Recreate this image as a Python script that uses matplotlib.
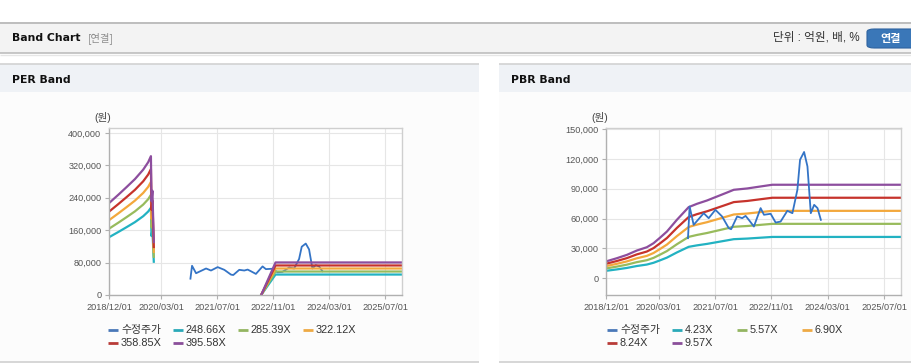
import matplotlib
matplotlib.use('Agg')
import matplotlib.pyplot as plt
import matplotlib.dates as mdates
from matplotlib.lines import Line2D
from matplotlib.patches import Rectangle, FancyBboxPatch
import numpy as np
import pandas as pd

plt.rcParams['font.family'] = ['Liberation Sans', 'Noto Sans CJK KR']

W, H = 912, 364

# --- data ---
price_dates = ['2020-11-09', '2020-11-23', '2020-12-28', '2021-03-25', '2021-05-07',
               '2021-07-04', '2021-08-31', '2021-10-28', '2021-11-17', '2022-01-08',
               '2022-02-21', '2022-03-22', '2022-04-19', '2022-06-02', '2022-07-30',
               '2022-08-28', '2022-10-25', '2022-12-07', '2023-01-19', '2023-03-18',
               '2023-05-01', '2023-06-13', '2023-07-06', '2023-08-10', '2023-09-08',
               '2023-10-07', '2023-11-05', '2023-12-04', '2024-01-02']
price_values = [40300, 72100, 53700, 65400, 60400,
                68800, 62100, 50300, 49300, 62100,
                60400, 62700, 58700, 52000, 70500,
                63800, 64800, 56000, 57000, 67800,
                65400, 88900, 119100, 126900, 112400,
                65400, 73800, 70500, 58700]

# EPS used for PER band (NaN = gap)
eps_dates = ['2018-12-01', '2019-02-20', '2019-05-03', '2019-07-15', '2019-09-25',
             '2019-11-07', '2019-12-01', '2019-12-06', '2019-12-14', '2019-12-26',
             '2020-06-01', '2022-07-18', '2022-11-20', '2025-11-25']
eps_values = [573, 625, 673, 723, 782,
              828, 866, 585, 650, 330,
              np.nan, 0, 203, 203]
per_multiples = [248.66, 285.39, 322.12, 358.85, 395.58]

# BPS used for PBR band
bps_dates = ['2018-12-01', '2019-03-03', '2019-05-30', '2019-08-24', '2019-11-19',
             '2020-01-16', '2020-03-14', '2020-05-11', '2020-08-05', '2020-11-15',
             '2021-01-26', '2021-04-23', '2021-07-19', '2021-10-14', '2021-12-10',
             '2022-04-05', '2022-07-30', '2022-11-08', '2025-11-25']
bps_values = [1770, 2100, 2455, 2910, 3260,
              3680, 4280, 4910, 6140, 7470,
              7820, 8170, 8590, 9010, 9290,
              9430, 9640, 9820, 9820]
pbr_multiples = [4.23, 5.57, 6.90, 8.24, 9.57]

x_tick_dates = ['2018-12-01', '2020-03-01', '2021-07-01', '2022-11-01', '2024-03-01', '2025-07-01']
per_yticks = [0, 80000, 160000, 240000, 320000, 400000]
pbr_yticks = [0, 30000, 60000, 90000, 120000, 150000]

price_label = '수정주가'
price_color = '#3474c6'
band_colors = ['#22b2c2', '#98bb5c', '#f3a83c', '#c6332c', '#8d4e9e']
legend_colors = ['#4a78b8', '#2aa9b8', '#93b561', '#eeaa44', '#b83b38', '#8a4f9a']


def fx(x):
    return x / W


def fy(y):
    return 1 - y / H


fig = plt.figure(figsize=(W / 100, H / 100), dpi=100)
fig.patch.set_facecolor('white')


def rect(x0, y0, x1, y1, **kw):
    fig.add_artist(Rectangle((fx(x0), fy(y1)), (x1 - x0) / W, (y1 - y0) / H,
                             transform=fig.transFigure, zorder=-10, **kw))


def hline(x0, x1, y, color, lw=1.0, z=-5):
    fig.add_artist(Line2D([fx(x0), fx(x1)], [fy(y), fy(y)], transform=fig.transFigure,
                          color=color, lw=lw, solid_capstyle='butt', zorder=z))


# header bar
rect(0, 22, W, 53, facecolor='#f3f3f3', edgecolor='none')
hline(0, W, 22.5, '#b4b4b4', 1.2)
hline(0, W, 53, '#bdbdbd', 1.2)
hline(0, W, 54.5, '#e6e6e6', 1.0)
fig.text(fx(12), fy(38), 'Band Chart', family='DejaVu Sans', weight='bold', size=7.8,
         color='#111111', va='center')
fig.text(fx(88), fy(38), '[연결]', family=['Noto Sans CJK KR'], size=7.4,
         color='#8c8c8c', va='center')
fig.text(fx(860), fy(38), '단위 : 억원, 배, %', family=['Liberation Sans', 'Noto Sans CJK KR'],
         size=8.4, color='#333333', va='center', ha='right')
fig.add_artist(FancyBboxPatch((fx(867), fy(48)), 60 / W, 19 / H,
                              boxstyle='round,pad=0,rounding_size=0.008',
                              transform=fig.transFigure, facecolor='#3a77b8',
                              edgecolor='#2e639f', lw=0.8, zorder=-4))
fig.text(fx(891), fy(38.5), '연결', family=['Noto Sans CJK KR'], weight='bold', size=8,
         color='white', va='center', ha='center')

# panels
for (x0, x1, title) in [(0, 479, 'PER Band'), (499, W, 'PBR Band')]:
    rect(x0, 64, x1, 92, facecolor='#eff2f6', edgecolor='none')
    rect(x0, 92, x1, 362, facecolor='#fcfcfc', edgecolor='none')
    hline(x0, x1, 64, '#d2d2d2', 1.2)
    hline(x0, x1, 362, '#d0d0d0', 1.2)
    fig.text(fx(x0 + 12), fy(80), title, family='DejaVu Sans', weight='bold', size=7.8,
             color='#111111', va='center')


def draw_band(box, base_dates, base_values, multiples, ylim, yticks, price_on_top):
    left, top, right, bottom = box
    ax = fig.add_axes([fx(left), fy(bottom), (right - left) / W, (bottom - top) / H])
    ax.set_facecolor('white')
    d = pd.to_datetime(base_dates)
    base = np.array(base_values, dtype=float)
    ax.plot(pd.to_datetime(price_dates), price_values, color=price_color, lw=1.3,
            zorder=4 if price_on_top else 1.5)
    for m, c in zip(multiples, band_colors):
        ax.plot(d, base * m, color=c, lw=1.6, zorder=2)
    ax.set_xlim(pd.Timestamp('2018-12-01'), pd.Timestamp('2025-11-25'))
    ax.set_ylim(*ylim)
    ax.set_xticks(pd.to_datetime(x_tick_dates))
    ax.xaxis.set_major_formatter(mdates.DateFormatter('%Y/%m/%d'))
    ax.set_yticks(yticks)
    ax.set_yticklabels(['{:,}'.format(v) for v in yticks])
    ax.grid(True, color='#e6e6e6', lw=0.8)
    ax.set_axisbelow(True)
    for s in ['top', 'right']:
        ax.spines[s].set_color('#cfcfcf')
    for s in ['left', 'bottom']:
        ax.spines[s].set_color('#b0b0b0')
    for s in ax.spines.values():
        s.set_linewidth(1.0)
    ax.tick_params(axis='both', labelsize=6.6, colors='#b0b0b0', labelcolor='#555555',
                   length=3, width=0.8, pad=2.5)
    fig.text(fx(left - 6), fy(118), '(원)', size=7.6, color='#444444', va='center', ha='center')
    return ax


draw_band((109, 128, 402, 295), eps_dates, eps_values, per_multiples,
          (0, 412000), per_yticks, False)
draw_band((606, 128, 901, 295), bps_dates, bps_values, pbr_multiples,
          (-16800, 151000), pbr_yticks, True)


def draw_legend(text_x0, multiples):
    labels = [price_label] + ['{:.2f}X'.format(m) for m in multiples]
    for i, (lab, col) in enumerate(zip(labels, legend_colors)):
        row, colno = divmod(i, 4)
        tx = text_x0 + 65 * colno
        ty = 330 + 13 * row
        hline(tx - 13, tx - 3, ty, col, 2.0, z=5)
        fig.text(fx(tx), fy(ty), lab, size=7.8, color='#333333', va='center')


draw_legend(121, per_multiples)
draw_legend(620, pbr_multiples)

fig.savefig('out.png', dpi=100)
